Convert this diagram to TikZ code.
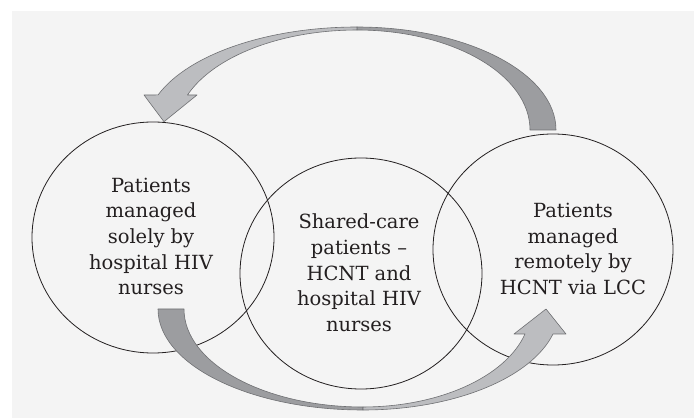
\documentclass[tikz,border=0pt]{standalone}
\usepackage{fontspec}
\setmainfont{DejaVu Serif}
\usetikzlibrary{shapes.geometric}
\definecolor{panelbg}{HTML}{F4F4F4}
\definecolor{lightband}{HTML}{BCBDC0}
\definecolor{darkband}{HTML}{9C9DA0}
\definecolor{bandline}{HTML}{6F7073}
\definecolor{inkc}{HTML}{231F20}
\tikzset{
  venn/.style={ellipse, draw=inkc, line width=0.8pt, minimum width=242pt, minimum height=231pt, inner sep=0pt},
  lbl/.style={align=center, text=inkc, font=\fontsize{19.5}{25.7}\selectfont, inner sep=0pt},
  lightpart/.style={fill=lightband, draw=bandline, line width=0.6pt, line join=round},
  darkpart/.style={fill=darkband, draw=bandline, line width=0.6pt, line join=round}
}
\begin{document}
\begin{tikzpicture}[x=1pt,y=1pt]
\useasboundingbox (0,0) rectangle (694,418);
\fill[white] (0,0) rectangle (694,418);
\fill[panelbg] (12,0) rectangle (694,407);
% circles
\node[venn] (L) at (153,180.5) {};
\node[venn] (M) at (361,144.5) {};
\node[venn, minimum width=240pt] (R) at (553,168.5) {};
% labels
\node[lbl] (Lt) at (151,181.5) {Patients\\managed\\solely by\\hospital HIV\\nurses};
\node[lbl] (Mt) at (359,145) {Shared-care\\patients --\\HCNT and\\hospital HIV\\nurses};
\node[lbl] (Rt) at (573,169) {Patients\\managed\\remotely by\\HCNT via LCC};
% top curved arrow (right circle -> left circle)
\draw[darkpart] (556,288) arc[start angle=0,end angle=90,x radius=199,y radius=103]
  -- (357,388) arc[start angle=90,end angle=0,x radius=173,y radius=100] -- cycle;
\draw[lightpart] (357,391) arc[start angle=90,end angle=160.1,x radius=211.6,y radius=103]
  -- (144,323) -- (164,296.3) -- (197,323) -- (187.5,323)
  arc[start angle=159.5,end angle=90,x radius=181,y radius=100] -- cycle;
% bottom curved arrow (left circle -> right circle)
\draw[darkpart] (158,109) arc[start angle=180,end angle=270,x radius=205,y radius=101]
  -- (363,11) arc[start angle=270,end angle=180,x radius=179,y radius=98] -- cycle;
\draw[lightpart] (363,8) arc[start angle=270,end angle=345.67,x radius=196.1,y radius=101]
  -- (566,84) -- (546,109) -- (514,84) -- (525,84)
  arc[start angle=345.2,end angle=270,x radius=167.5,y radius=98] -- cycle;
\end{tikzpicture}
\end{document}
